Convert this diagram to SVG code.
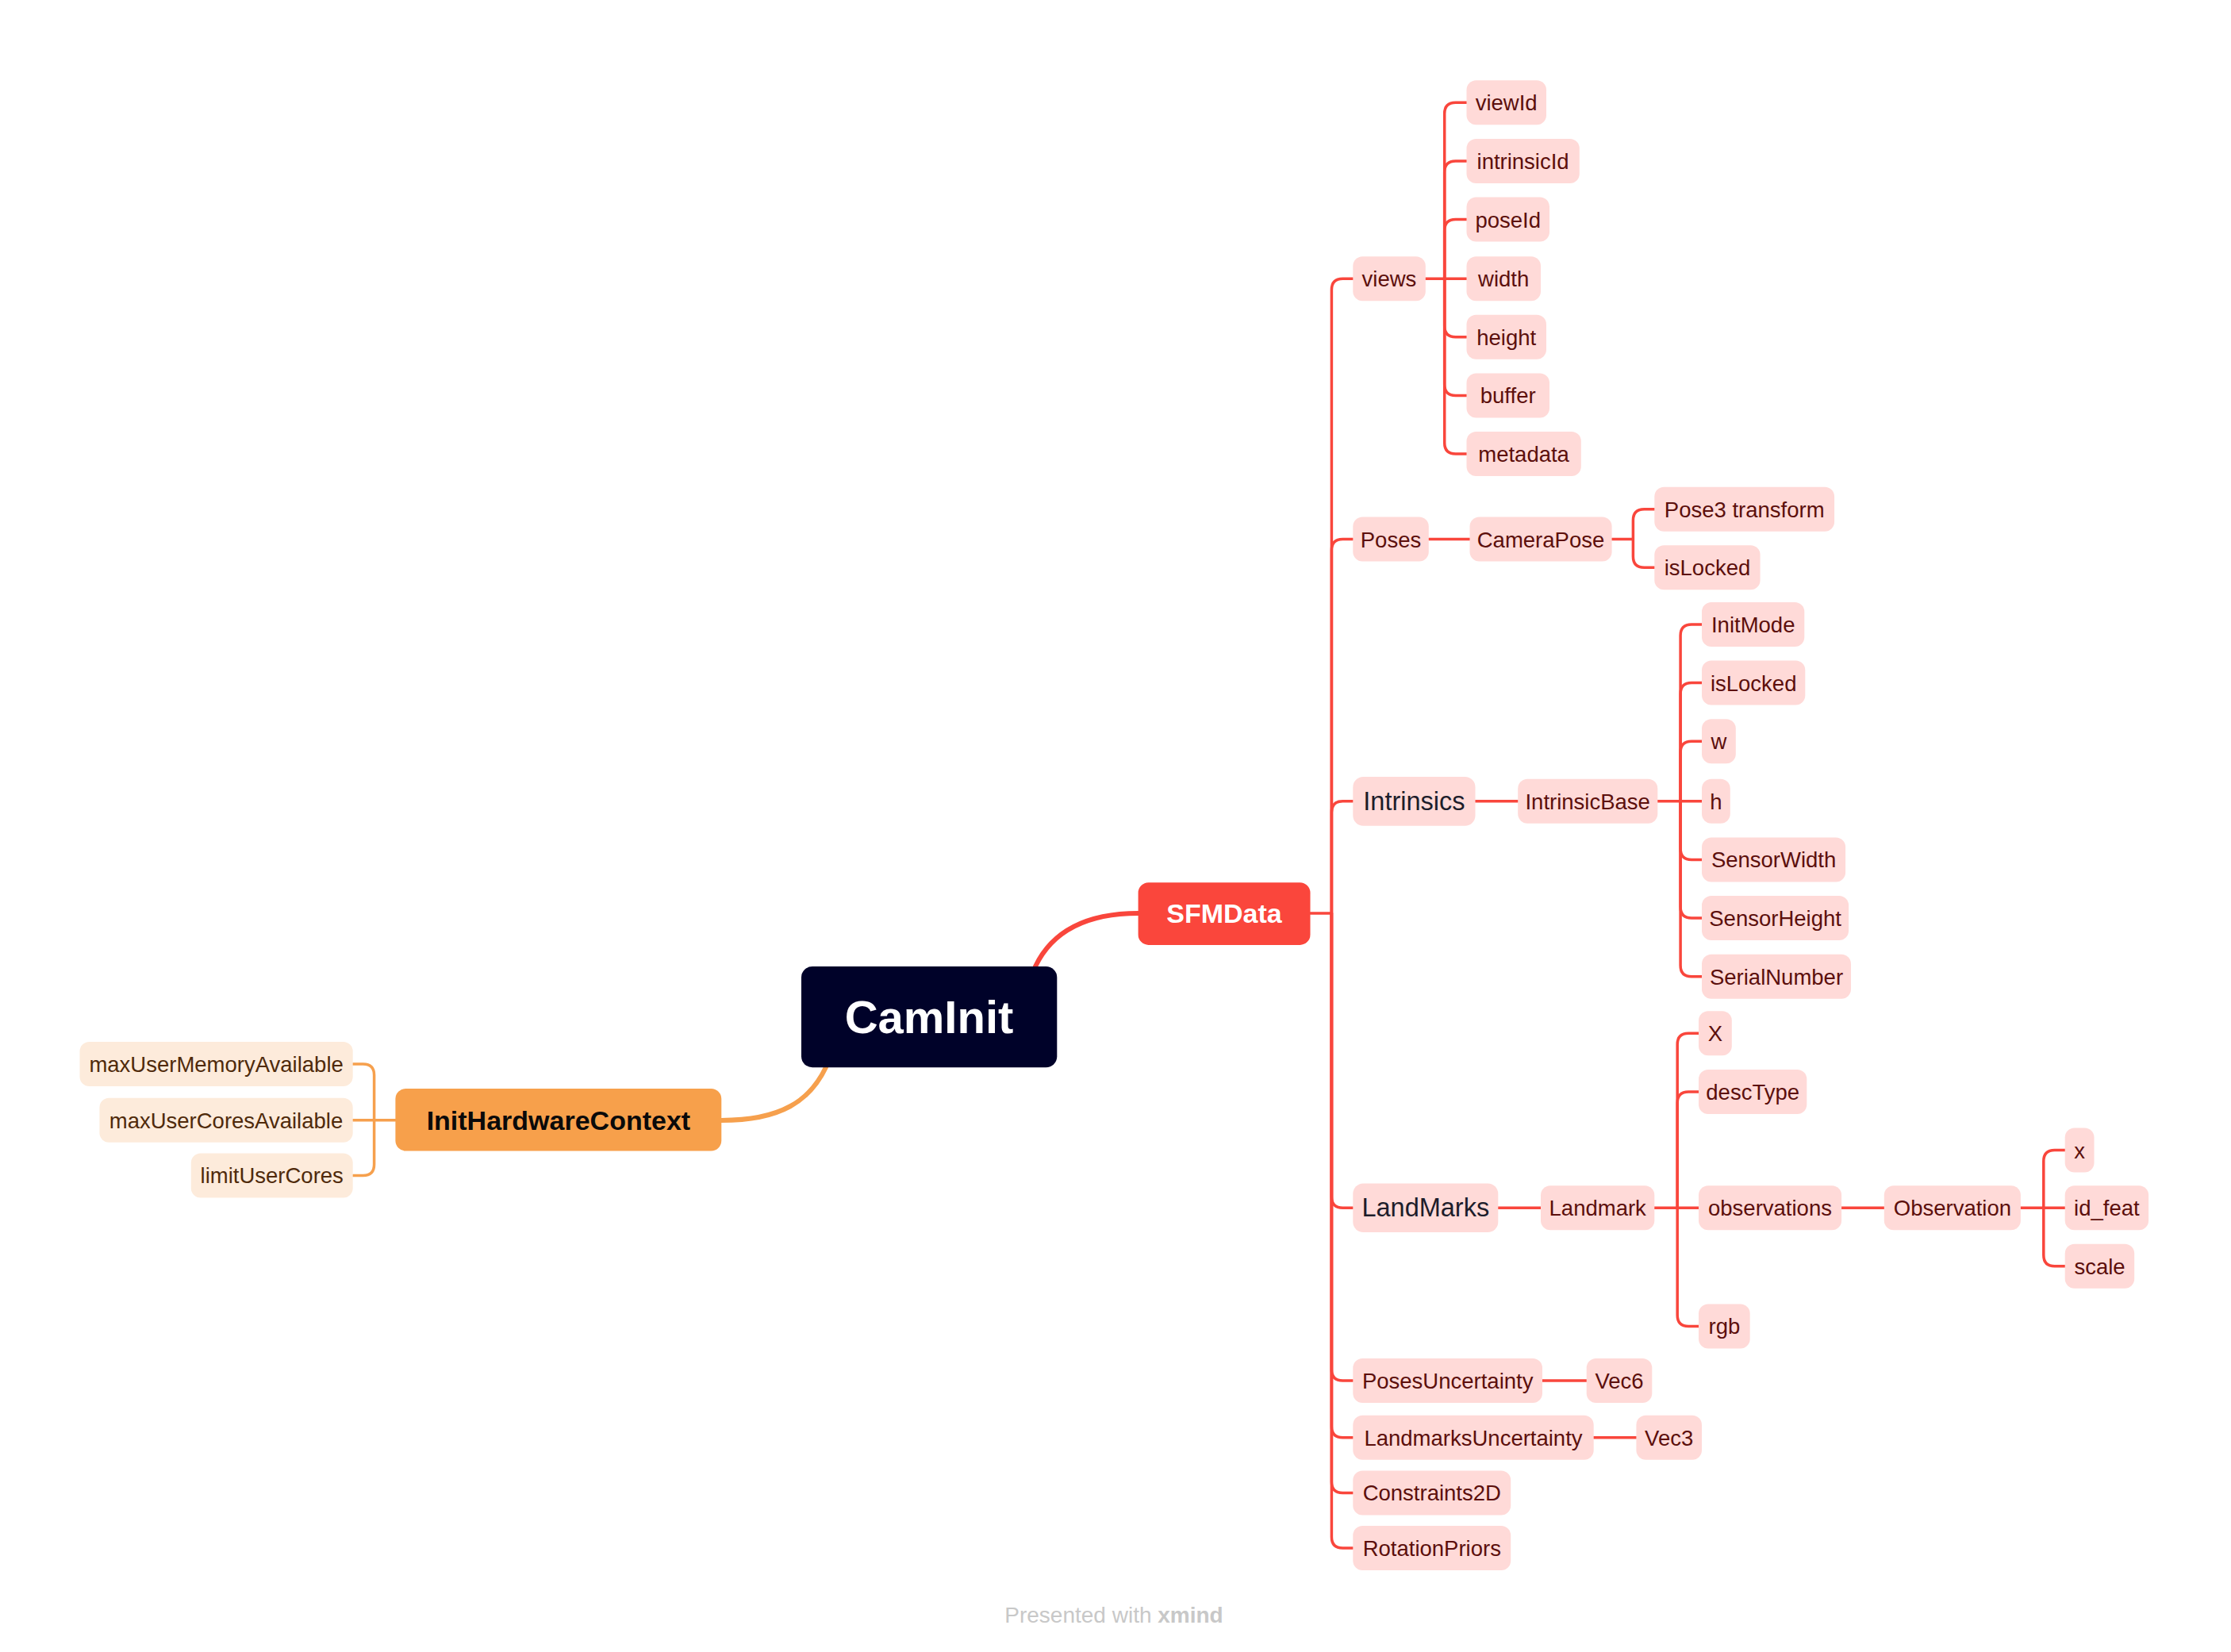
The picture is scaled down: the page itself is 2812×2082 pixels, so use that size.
<svg xmlns="http://www.w3.org/2000/svg" width="2812" height="2082" viewBox="0 0 2812 2082">
<style>
text{font-family:"Liberation Sans",Arial,sans-serif;text-anchor:middle}
.c rect{fill:#FFDAD8}
.c text{fill:#5C0F0C;font-size:27.5px}
.k rect{fill:#FFDAD8}
.k text{fill:#1D1D2B;font-size:32.5px}
.o rect{fill:#FDEBDB}
.o text{fill:#4F2A0B;font-size:27.5px}
.r{fill:none;stroke:#F9463C;stroke-width:3.5;stroke-linecap:round;stroke-linejoin:round}
.or{fill:none;stroke:#F6A04D;stroke-width:3.5;stroke-linecap:round;stroke-linejoin:round}
.main{font-weight:bold;font-size:34px}
</style>
<rect width="2812" height="2082" fill="#FFFFFF"/>
<g id="connectors">
<path class="r" d="M1305,1218 C1325,1176 1365,1151 1435,1151" style="stroke-width:6"/>
<path class="or" d="M1041,1345 C1021,1387 985,1412 909,1412" style="stroke-width:6"/>
<path class="r" d="M1651.5,1151 H1678.4"/>
<path class="r" d="M1678.4,1151 V365.2 Q1678.4,351.2 1692.4,351.2 H1705.3"/>
<path class="r" d="M1678.4,1151 V693.5 Q1678.4,679.5 1692.4,679.5 H1705.3"/>
<path class="r" d="M1678.4,1151 V1023.8 Q1678.4,1009.8 1692.4,1009.8 H1705.3"/>
<path class="r" d="M1678.4,1151 V1508.2 Q1678.4,1522.2 1692.4,1522.2 H1705.3"/>
<path class="r" d="M1678.4,1151 V1726.1 Q1678.4,1740.1 1692.4,1740.1 H1705.3"/>
<path class="r" d="M1678.4,1151 V1797.7 Q1678.4,1811.7 1692.4,1811.7 H1705.3"/>
<path class="r" d="M1678.4,1151 V1867.4 Q1678.4,1881.4 1692.4,1881.4 H1705.3"/>
<path class="r" d="M1678.4,1151 V1937 Q1678.4,1951 1692.4,1951 H1705.3"/>
<path class="r" d="M1796.8,351.2 H1820.7 V143.3 Q1820.7,129.3 1834.7,129.3 H1848.5"/>
<path class="r" d="M1820.7,351.2 V217 Q1820.7,203 1834.7,203 H1848.5"/>
<path class="r" d="M1820.7,351.2 V290.6 Q1820.7,276.6 1834.7,276.6 H1848.5"/>
<path class="r" d="M1820.7,351.2 H1848.5"/>
<path class="r" d="M1820.7,351.2 V410.8 Q1820.7,424.8 1834.7,424.8 H1848.5"/>
<path class="r" d="M1820.7,351.2 V484.4 Q1820.7,498.4 1834.7,498.4 H1848.5"/>
<path class="r" d="M1820.7,351.2 V558.1 Q1820.7,572.1 1834.7,572.1 H1848.5"/>
<path class="r" d="M1800.8,679.5 H1852.5"/>
<path class="r" d="M2031.6,679.5 H2058.4 V655.7 Q2058.4,641.7 2072.4,641.7 H2085.3"/>
<path class="r" d="M2058.4,679.5 V701.3 Q2058.4,715.3 2072.4,715.3 H2085.3"/>
<path class="r" d="M1859.5,1009.8 H1913.2"/>
<path class="r" d="M2089.3,1009.8 H2118.1 V801 Q2118.1,787 2132.1,787 H2145"/>
<path class="r" d="M2118.1,1009.8 V874.6 Q2118.1,860.6 2132.1,860.6 H2145"/>
<path class="r" d="M2118.1,1009.8 V948.2 Q2118.1,934.2 2132.1,934.2 H2145"/>
<path class="r" d="M2118.1,1009.8 H2145"/>
<path class="r" d="M2118.1,1009.8 V1069.4 Q2118.1,1083.4 2132.1,1083.4 H2145"/>
<path class="r" d="M2118.1,1009.8 V1143.1 Q2118.1,1157.1 2132.1,1157.1 H2145"/>
<path class="r" d="M2118.1,1009.8 V1216.7 Q2118.1,1230.7 2132.1,1230.7 H2145"/>
<path class="r" d="M1888.3,1522.2 H1942"/>
<path class="r" d="M2085.3,1522.2 H2114.2 V1316.3 Q2114.2,1302.3 2128.2,1302.3 H2141"/>
<path class="r" d="M2114.2,1522.2 V1389.9 Q2114.2,1375.9 2128.2,1375.9 H2141"/>
<path class="r" d="M2114.2,1522.2 H2141"/>
<path class="r" d="M2114.2,1522.2 V1657.4 Q2114.2,1671.4 2128.2,1671.4 H2141"/>
<path class="r" d="M2321.1,1522.2 H2374.8"/>
<path class="r" d="M2546.9,1522.2 H2575.8 V1463.6 Q2575.8,1449.6 2589.8,1449.6 H2602.7"/>
<path class="r" d="M2575.8,1522.2 H2602.7"/>
<path class="r" d="M2575.8,1522.2 V1581.8 Q2575.8,1595.8 2589.8,1595.8 H2602.7"/>
<path class="r" d="M1944,1740.1 H1999.7"/>
<path class="r" d="M2008.7,1811.7 H2062.4"/>
<path class="or" d="M498.4,1411.8 H471.6 V1355.1 Q471.6,1341.1 457.6,1341.1 H444.7"/>
<path class="or" d="M471.6,1411.8 H444.7"/>
<path class="or" d="M471.6,1411.8 V1467.4 Q471.6,1481.4 457.6,1481.4 H444.7"/>
</g>
<g id="caminit"><rect x="1010" y="1218" width="322.3" height="127.3" rx="14" fill="#000229"/><text x="1171" y="1302" fill="#FFFFFF" style="font-size:58px;font-weight:bold">CamInit</text></g>
<g id="sfmdata"><rect x="1434.6" y="1112.3" width="216.9" height="78.6" rx="13" fill="#FA463C"/><text class="main" x="1543" y="1163" fill="#FFFFFF">SFMData</text></g>
<g id="inithw"><rect x="498.4" y="1372" width="410.9" height="78.6" rx="13" fill="#F7A04B"/><text class="main" x="703.9" y="1424" fill="#0A0A0A">InitHardwareContext</text></g>
<g id="maxmem" class="o"><rect x="100.5" y="1313.1" width="344.2" height="56" rx="12"/><text x="272.6" y="1351.1">maxUserMemoryAvailable</text></g>
<g id="maxcores" class="o"><rect x="125.4" y="1383.8" width="319.3" height="56" rx="12"/><text x="285" y="1421.8">maxUserCoresAvailable</text></g>
<g id="limitcores" class="o"><rect x="240.8" y="1453.4" width="203.9" height="56" rx="12"/><text x="342.7" y="1491.4">limitUserCores</text></g>
<g id="views" class="c"><rect x="1705.3" y="323.2" width="91.5" height="56" rx="12"/><text x="1751" y="361.2">views</text></g>
<g id="viewId" class="c"><rect x="1848.5" y="101.3" width="100.5" height="56" rx="12"/><text x="1898.7" y="139.3">viewId</text></g>
<g id="intrinsicId" class="c"><rect x="1848.5" y="175" width="142.3" height="56" rx="12"/><text x="1919.6" y="213">intrinsicId</text></g>
<g id="poseId" class="c"><rect x="1848.5" y="248.6" width="104.5" height="56" rx="12"/><text x="1900.7" y="286.6">poseId</text></g>
<g id="width" class="c"><rect x="1848.5" y="323.2" width="93.5" height="56" rx="12"/><text x="1895.2" y="361.2">width</text></g>
<g id="height" class="c"><rect x="1848.5" y="396.8" width="100.5" height="56" rx="12"/><text x="1898.7" y="434.8">height</text></g>
<g id="buffer" class="c"><rect x="1848.5" y="470.4" width="104.5" height="56" rx="12"/><text x="1900.7" y="508.4">buffer</text></g>
<g id="metadata" class="c"><rect x="1848.5" y="544.1" width="144.3" height="56" rx="12"/><text x="1920.6" y="582.1">metadata</text></g>
<g id="poses" class="c"><rect x="1705.3" y="651.5" width="95.5" height="56" rx="12"/><text x="1753" y="689.5">Poses</text></g>
<g id="camerapose" class="c"><rect x="1852.5" y="651.5" width="179.1" height="56" rx="12"/><text x="1942" y="689.5">CameraPose</text></g>
<g id="pose3" class="c"><rect x="2085.3" y="613.7" width="226.8" height="56" rx="12"/><text x="2198.7" y="651.7">Pose3 transform</text></g>
<g id="posLocked" class="c"><rect x="2085.3" y="687.3" width="133.3" height="56" rx="12"/><text x="2152" y="725.3">isLocked</text></g>
<g id="intrinsics" class="k"><rect x="1705.3" y="979" width="154.2" height="61.7" rx="13"/><text x="1782.4" y="1021">Intrinsics</text></g>
<g id="intrinsicbase" class="c"><rect x="1913.2" y="981.8" width="176.1" height="56" rx="12"/><text x="2001.2" y="1019.8">IntrinsicBase</text></g>
<g id="initmode" class="c"><rect x="2145" y="759" width="129.3" height="56" rx="12"/><text x="2209.7" y="797">InitMode</text></g>
<g id="intLocked" class="c"><rect x="2145" y="832.6" width="130.3" height="56" rx="12"/><text x="2210.2" y="870.6">isLocked</text></g>
<g id="w" class="c"><rect x="2145" y="906.2" width="42.8" height="56" rx="12"/><text x="2166.4" y="944.2">w</text></g>
<g id="h" class="c"><rect x="2145" y="981.8" width="35.8" height="56" rx="12"/><text x="2162.9" y="1019.8">h</text></g>
<g id="sensorwidth" class="c"><rect x="2145" y="1055.4" width="181.1" height="56" rx="12"/><text x="2235.6" y="1093.4">SensorWidth</text></g>
<g id="sensorheight" class="c"><rect x="2145" y="1129.1" width="185.1" height="56" rx="12"/><text x="2237.6" y="1167.1">SensorHeight</text></g>
<g id="serialnumber" class="c"><rect x="2145" y="1202.7" width="188" height="56" rx="12"/><text x="2239" y="1240.7">SerialNumber</text></g>
<g id="landmarks" class="k"><rect x="1705.3" y="1491.4" width="183" height="61.7" rx="13"/><text x="1796.8" y="1533.4">LandMarks</text></g>
<g id="landmark" class="c"><rect x="1942" y="1494.2" width="143.3" height="56" rx="12"/><text x="2013.7" y="1532.2">Landmark</text></g>
<g id="X" class="c"><rect x="2141" y="1274.3" width="41.8" height="56" rx="12"/><text x="2161.9" y="1312.3">X</text></g>
<g id="desctype" class="c"><rect x="2141" y="1347.9" width="136.3" height="56" rx="12"/><text x="2209.2" y="1385.9">descType</text></g>
<g id="observations" class="c"><rect x="2141" y="1494.2" width="180.1" height="56" rx="12"/><text x="2231" y="1532.2">observations</text></g>
<g id="rgb" class="c"><rect x="2141" y="1643.4" width="64.7" height="56" rx="12"/><text x="2173.4" y="1681.4">rgb</text></g>
<g id="observation" class="c"><rect x="2374.8" y="1494.2" width="172.1" height="56" rx="12"/><text x="2460.9" y="1532.2">Observation</text></g>
<g id="ox" class="c"><rect x="2602.7" y="1421.6" width="36.8" height="56" rx="12"/><text x="2621.1" y="1459.6">x</text></g>
<g id="idfeat" class="c"><rect x="2602.7" y="1494.2" width="105.4" height="56" rx="12"/><text x="2655.4" y="1532.2">id_feat</text></g>
<g id="scale" class="c"><rect x="2602.7" y="1567.8" width="87.5" height="56" rx="12"/><text x="2646.5" y="1605.8">scale</text></g>
<g id="posesunc" class="c"><rect x="1705.3" y="1712.1" width="238.7" height="56" rx="12"/><text x="1824.7" y="1750.1">PosesUncertainty</text></g>
<g id="vec6" class="c"><rect x="1999.7" y="1712.1" width="82.6" height="56" rx="12"/><text x="2041" y="1750.1">Vec6</text></g>
<g id="landunc" class="c"><rect x="1705.3" y="1783.7" width="303.4" height="56" rx="12"/><text x="1857" y="1821.7">LandmarksUncertainty</text></g>
<g id="vec3" class="c"><rect x="2062.4" y="1783.7" width="82.6" height="56" rx="12"/><text x="2103.7" y="1821.7">Vec3</text></g>
<g id="constraints" class="c"><rect x="1705.3" y="1853.4" width="198.9" height="56" rx="12"/><text x="1804.8" y="1891.4">Constraints2D</text></g>
<g id="rotpriors" class="c"><rect x="1705.3" y="1923" width="198.9" height="56" rx="12"/><text x="1804.8" y="1961">RotationPriors</text></g>
<text x="1404" y="2045" fill="#C8C8C8" style="font-size:28px">Presented with <tspan font-weight="bold">xmind</tspan></text>
</svg>
